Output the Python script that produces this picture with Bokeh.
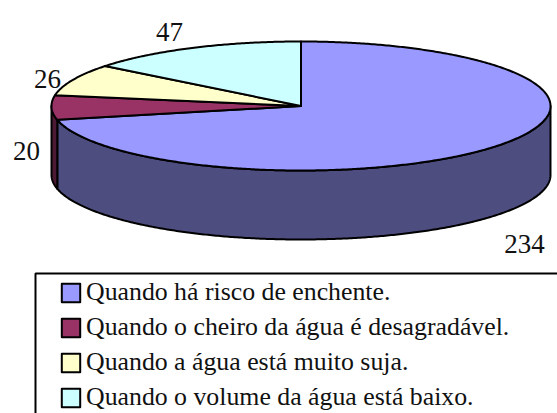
import numpy as np
from bokeh.plotting import figure
from bokeh.models import Legend, LegendItem, Range1d
from bokeh.embed import file_html
from bokeh.resources import INLINE

categories = ["Quando há risco de enchente.",
              "Quando o cheiro da água é desagradável.",
              "Quando a água está muito suja.",
              "Quando o volume da água está baixo."]
values = [234, 20, 26, 47]
top_colors = ["#9999FF", "#993366", "#FFFFCC", "#CCFFFF"]
side_colors = ["#4D4D80", "#4D1A33", "#80806A", "#6A8080"]
label_x = [524, 26, 47, 169]
label_y = [243, 150, 78, 31]

FONT = "Liberation Serif"
cx, cy, rx, ry, depth = 300.5, 105.5, 249.5, 64.5, 69

W, H = 557, 413
p = figure(width=W, height=H, output_backend="svg", toolbar_location=None,
           x_range=Range1d(0, W), y_range=Range1d(H, 0),
           min_border=0, outline_line_color=None)
p.xaxis.visible = False
p.yaxis.visible = False
p.grid.visible = False


def arc(a, b, dy=0.0):
    t = np.radians(np.linspace(a, b, max(int(abs(b - a) * 2), 2)))
    return cx + rx * np.sin(t), cy + dy - ry * np.cos(t)


edges = 360 * np.concatenate([[0], np.cumsum(values)]) / sum(values)

p.line([35, 35, W], [H, 273, 273], line_color="black", line_width=2)

for i in range(len(values)):
    a, b = max(edges[i], 90), min(edges[i + 1], 270)
    if a >= b:
        continue
    x1, y1 = arc(a, b)
    x2, y2 = arc(b, a, depth)
    p.patch(np.r_[x1, x2], np.r_[y1, y2], fill_color=side_colors[i],
            line_color="black", line_width=2, line_join="round")

renderers = []
for i in range(len(values)):
    x1, y1 = arc(edges[i], edges[i + 1])
    renderers.append(p.patch(np.r_[cx, x1], np.r_[cy, y1], fill_color=top_colors[i],
                             line_color="black", line_width=2, line_join="round"))

p.text(label_x, label_y, [str(v) for v in values], text_font={"value": FONT},
       text_font_size="27px", text_color="#111111", text_align="center", text_baseline="alphabetic")

legend = Legend(items=[LegendItem(label=c, renderers=[r]) for c, r in zip(categories, renderers)],
                location=(59, 1), orientation="vertical", border_line_color=None,
                background_fill_alpha=0, padding=0, margin=0, spacing=5,
                glyph_width=23, glyph_height=23, label_standoff=4,
                label_text_font=FONT, label_text_font_size="25.8px", label_text_color="#111111",
                label_height=30)
p.add_layout(legend, "center")

open("out.html", "w").write(file_html(p, INLINE))
